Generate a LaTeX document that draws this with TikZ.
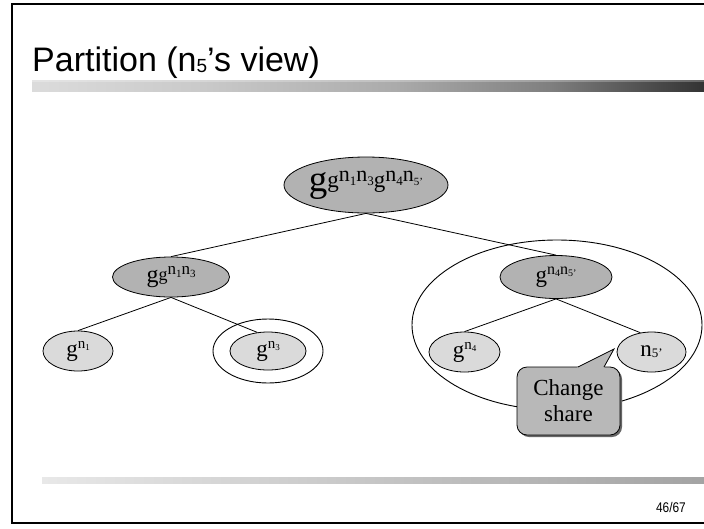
\documentclass[tikz,border=0pt]{standalone}
\usepackage{fontspec}
\setmainfont{Liberation Serif}
\newfontfamily\arialfont{Liberation Sans}
\usetikzlibrary{shapes.geometric}

\definecolor{nodedark}{HTML}{B2B2B2}
\definecolor{nodelight}{HTML}{DADADA}
\definecolor{calloutfill}{HTML}{B8B8B8}
\definecolor{shadowgray}{HTML}{666666}

% gradient bars under the title and above the footer
\pgfdeclarehorizontalshading{titlebar}{100bp}{color(0bp)=(black!14); color(25bp)=(black!14); color(37.5bp)=(black!21); color(52bp)=(black!33); color(63.5bp)=(black!50); color(71bp)=(black!70); color(75bp)=(black!80); color(100bp)=(black!80)}
\pgfdeclarehorizontalshading{footbar}{100bp}{color(0bp)=(black!9); color(25bp)=(black!9); color(75bp)=(black!36); color(100bp)=(black!36)}

% text at an explicit size
\newcommand\fs[2]{{\fontsize{#1}{#1}\selectfont #2}}

\begin{document}
\begin{tikzpicture}[x=1pt,y=-1pt,
  treenode/.style={ellipse, draw=black, line width=0.8pt, inner sep=0pt},
  innernode/.style={treenode, fill=nodedark},
  leafnode/.style={treenode, fill=nodelight},
  ring/.style={ellipse, draw=black, line width=0.9pt, inner sep=0pt},
  edge/.style={draw=black, line width=0.8pt}]
\useasboundingbox (0,0) rectangle (704,528);
\fill[white] (0,0) rectangle (704,528);

% slide frame
\draw[line width=2.2pt] (708,4) -- (12,4) -- (12,523) -- (708,523);

% title and bars
\node[anchor=base west, inner sep=0pt, font=\arialfont\fontsize{34}{34}\selectfont] (title) at (32,71)
  {Partition (n\raisebox{-1pt}{\fs{19}{5}}’s view)};
\shade[shading=titlebar] (32,80) rectangle (704,91);
\fill[white, opacity=0.25] (32,80) rectangle (704,82);
\shade[shading=footbar] (42,477) rectangle (704,483);
\node[anchor=base east, inner sep=0pt, font=\arialfont\fontsize{14}{14}\selectfont] (pageno) at (686,512)
  {\scalebox{0.85}[1]{46/67}};

% ring around the right subtree and around g^{n3}
\node[ring, minimum width=290pt, minimum height=170pt] (subtree) at (557,325) {};
\node[ring, minimum width=110pt, minimum height=64pt] (n3ring) at (268,351) {};

% tree nodes
\node[innernode, minimum width=164pt, minimum height=56pt] (root) at (366,185)
  {\fs{37}{g}\raisebox{3.5pt}{\fs{23}{g}}\raisebox{10pt}{\fs{22}{n}\raisebox{-4.5pt}{\fs{13}{1}}\fs{22}{n}\raisebox{-4.5pt}{\fs{13}{3}}}\raisebox{3.5pt}{\fs{23}{g}}\raisebox{10pt}{\fs{22}{n}\raisebox{-4.5pt}{\fs{13}{4}}\fs{22}{n}\raisebox{-4.5pt}{\fs{11}{5'}}}};
\node[innernode, minimum width=117pt, minimum height=40pt] (left) at (171,277)
  {\fs{24}{g}\raisebox{2pt}{\fs{18}{g}}\raisebox{8pt}{\fs{17}{n}\raisebox{-3pt}{\fs{11}{1}}\fs{17}{n}\raisebox{-3pt}{\fs{11}{3}}}};
\node[innernode, minimum width=112pt, minimum height=43pt] (right) at (556,277)
  {\fs{23}{g}\raisebox{8pt}{\fs{16}{n}\raisebox{-2pt}{\fs{10}{4}}\fs{16}{n}\raisebox{-2pt}{\fs{10}{5'}}}};
\node[leafnode, minimum width=70pt, minimum height=40pt] (g1) at (78,351)
  {\fs{23}{g}\raisebox{8pt}{\fs{15}{n}\raisebox{-2pt}{\fs{9}{1}}}};
\node[leafnode, minimum width=76pt, minimum height=38pt] (g3) at (268,351)
  {\fs{23}{g}\raisebox{8pt}{\fs{15}{n}\raisebox{-2pt}{\fs{9}{3}}}};
\node[leafnode, minimum width=71pt, minimum height=40pt] (g4) at (464.5,352)
  {\fs{23}{g}\raisebox{8pt}{\fs{15}{n}\raisebox{-2pt}{\fs{9}{4}}}};
\node[leafnode, minimum width=69pt, minimum height=40pt] (n5) at (651.5,352)
  {\fs{23}{n}\raisebox{-1pt}{\fs{13}{5'}}};

% tree edges
\draw[edge] (root.south) -- (left.north);
\draw[edge] (root.south) -- (right.north);
\draw[edge] (left.south) -- (g1.north);
\draw[edge] (left.south) -- (g3.120);
\draw[edge] (right.south) -- (g4.north);
\draw[edge] (right.south) -- (n5.120);

% speech bubble pointing at n5'
\coordinate (tip) at (614,349);
\fill[shadowgray, rounded corners=10pt] (519,369) rectangle (622,437);
\node[rectangle, rounded corners=10pt, fill=calloutfill, draw=black, line width=0.8pt,
      minimum width=103pt, minimum height=68pt, align=center, inner sep=0pt,
      font=\fontsize{23}{26}\selectfont] (callout) at (568.5,401) {Change\\share};
\fill[calloutfill] (576,369.5) -- (578,367) -- (tip) -- (604,367) -- (606,369.5) -- cycle;
\draw[line width=0.8pt, line join=miter] (578,367) -- (tip) -- (604,367);
\end{tikzpicture}
\end{document}
